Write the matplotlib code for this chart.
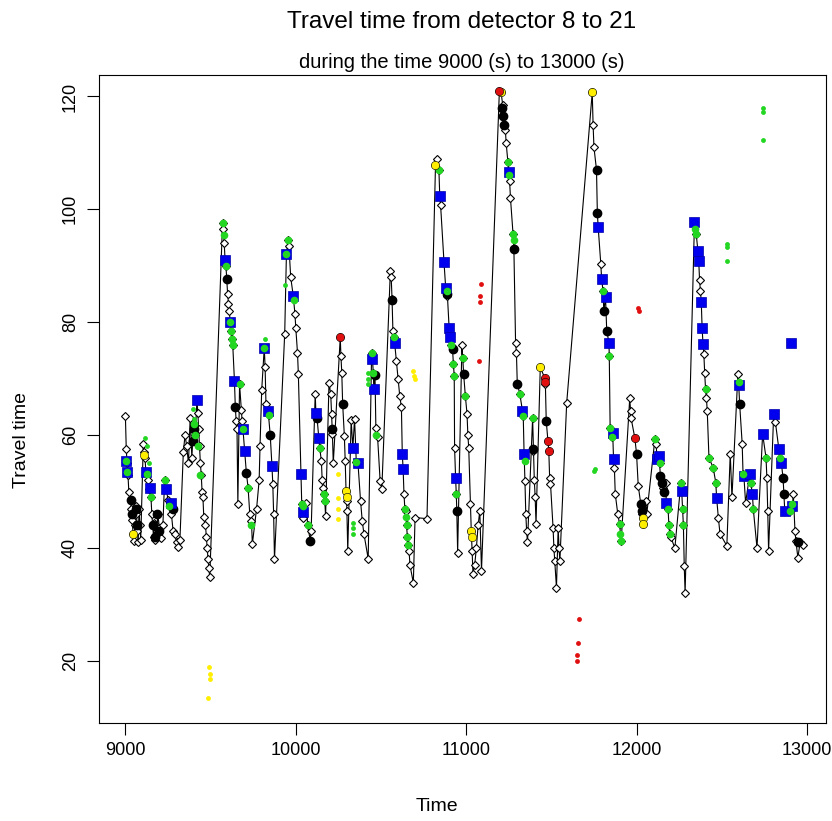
import matplotlib
matplotlib.use("Agg")
import matplotlib.pyplot as plt

plt.rcParams['font.family'] = ['Liberation Sans', 'DejaVu Sans']

# main travel-time series (time in s, travel time)
time = [9000, 9005, 9010, 9015, 9020, 9030, 9035, 9040, 9045, 9050, 9055, 9060, 9065, 9070, 9075, 9080, 9085, 9090,
        9105, 9110, 9115, 9120, 9130, 9140, 9150, 9155, 9160, 9165, 9170, 9175, 9185, 9190, 9200, 9210, 9220,
        9230, 9240, 9250, 9260, 9270, 9280, 9290, 9300, 9310, 9320,
        9340, 9350, 9360, 9370, 9380, 9390, 9400, 9410, 9420, 9425, 9430, 9435, 9440, 9445, 9450, 9455, 9460,
        9470, 9475, 9480, 9485, 9490, 9495,
        9570, 9575, 9580, 9585, 9590, 9595, 9600, 9605, 9610, 9615, 9620, 9625, 9630, 9640, 9645, 9650, 9655, 9660,
        9670, 9680, 9685, 9690, 9700, 9710, 9720, 9730, 9740, 9745,
        9770, 9785, 9790, 9800, 9815, 9820, 9825, 9835, 9840, 9850, 9860, 9865, 9870, 9875,
        9935, 9945, 9955, 9960, 9970, 9985, 9995, 10000, 10010, 10015, 10030, 10035, 10040, 10045,
        10060, 10070, 10085, 10090,
        10114, 10118, 10125, 10135, 10140, 10150, 10155, 10160, 10165, 10170, 10175,
        10195, 10205, 10210, 10215, 10220,
        10261, 10265, 10270, 10275, 10285, 10290, 10295, 10298, 10300, 10305,
        10325, 10335, 10345, 10355, 10365, 10380, 10390, 10400, 10425,
        10445, 10450, 10455, 10458, 10465, 10470, 10480, 10495, 10505,
        10555, 10560, 10565, 10570, 10575, 10580, 10590, 10600, 10610, 10620, 10625, 10630, 10635, 10640, 10645,
        10650, 10655, 10660, 10665, 10670, 10690, 10700, 10770,
        10820, 10830, 10840, 10845, 10850, 10870, 10880, 10885, 10890, 10900, 10905, 10910, 10920, 10925, 10930,
        10932, 10938, 10942, 10945, 10950,
        10975, 10980, 10985, 10995, 11005, 11010, 11015, 11025, 11030, 11035, 11040, 11050, 11060, 11070, 11080, 11090,
        11195, 11205, 11215, 11220, 11230, 11235, 11245, 11250, 11255, 11260, 11275, 11280, 11290, 11295, 11300,
        11315, 11330, 11335, 11340, 11345, 11350, 11355, 11360, 11390, 11395, 11400, 11405, 11410,
        11435, 11460, 11465, 11470, 11480, 11485, 11490, 11495, 11510, 11515, 11520, 11530, 11540, 11545, 11550,
        11590, 11740, 11745, 11750, 11765, 11770, 11775, 11790, 11795, 11803, 11808, 11818, 11825, 11838, 11840,
        11845, 11855, 11860, 11865, 11870, 11875, 11890, 11900, 11910,
        11960, 11965, 11968, 11990, 12000, 12010, 12025, 12030, 12035, 12040, 12055, 12060,
        12108, 12115, 12120, 12130, 12135, 12140, 12150, 12155, 12170, 12175, 12185, 12190, 12195, 12200, 12225,
        12260, 12265, 12270, 12275, 12280, 12285,
        12340, 12350, 12360, 12365, 12370, 12375, 12380, 12385, 12390, 12395, 12400, 12405, 12410, 12415, 12425,
        12450, 12465, 12470, 12480, 12490, 12530,
        12550, 12560, 12595, 12600, 12605, 12620, 12625, 12630, 12640, 12665, 12670, 12680, 12685, 12707,
        12740, 12760, 12765, 12770, 12775,
        12805, 12815, 12835, 12840, 12850, 12860, 12865, 12870, 12900, 12915, 12920, 12930, 12935, 12947, 12960, 12975]
travel = [63.3, 57.5, 55, 53, 50, 48.5, 47, 45, 42.5, 41.3, 44, 47.5, 46, 43, 41, 47, 44, 41.5,
          58.5, 57, 56, 53.5, 52, 50.5, 49, 46, 44, 42, 44.5, 41.5, 43, 46, 43.5, 41.8, 44,
          52, 50.5, 48.5, 48, 46, 43, 42.5, 41, 40.2, 41.5,
          57, 60, 58, 55, 63, 56, 62, 60, 66.3, 64, 61, 58, 55, 53, 50, 49, 45.5,
          44, 42, 40, 38, 36.5, 34.8,
          97.5, 96.5, 94, 91, 90, 87.6, 85, 83.3, 82, 80, 78.5, 77, 76, 69.6, 65, 62.5, 61, 47.8,
          69, 64.5, 62.5, 61, 57.2, 53.3, 50.7, 46, 44.8, 40.7,
          47, 52, 58, 68, 75.5, 72, 65.5, 64.3, 63.5, 60, 54.6, 51.4, 46, 38,
          78, 92, 94.5, 93.5, 88, 84.7, 81.5, 79, 74.6, 70.9, 53.2, 47.8, 46.3, 45.4,
          48, 44, 41.3, 43,
          67.3, 64, 63, 59.5, 57.8, 55.5, 52, 50.7, 49.6, 48.4, 45.7,
          69.3, 67.3, 63.8, 60.2, 55,
          77.3, 74, 71, 65.6, 59.9, 55.5, 50.1, 48.4, 46.6, 39.5,
          62.6, 57.8, 62.9, 55.3, 55, 48.4, 44.8, 42.5, 38.1,
          74.6, 73.5, 71, 68.2, 70.6, 61.3, 59.7, 51.9, 50.5,
          89, 88, 84.1, 78.5, 77.3, 76.4, 73.2, 70, 67, 64.9, 56.7, 54, 49.6, 47, 46.6,
          44, 42, 40.5, 39.5, 37, 33.8, 45.4, 45.2,
          107.8, 109, 107, 102.4, 100.7, 90.6, 86, 85.6, 84.7, 79, 77.3, 75.9, 75.3, 72.6, 70.5,
          57.8, 52.4, 49.6, 46.6, 39.2,
          75.9, 73.7, 70.9, 67, 63.8, 60, 57.8, 47.8, 43, 39.5, 35.4, 37, 40, 44, 46.6, 36,
          121, 120.7, 118.4, 115.2, 114, 111.7, 108.3, 106.6, 105, 102, 95.7, 93.2, 76.4, 74.6, 69.1,
          67.3, 64.3, 63.4, 56.7, 51.9, 46, 43, 41, 63, 57.2, 52, 49, 44.3,
          72, 70.2, 69, 62.5, 59, 57.2, 52.4, 51.4, 43.6, 40, 37.7, 33, 43.6, 40, 37.7,
          65.7, 120.7, 115, 111, 107, 99.3, 96.8, 90.4, 87.7, 85.6, 82, 84.4, 78.5, 76.4, 74,
          61.3, 59.6, 60.4, 55.8, 54.2, 49.6, 46, 44.3, 41.3,
          66.5, 64.3, 63, 59.5, 56.7, 51, 47.8, 46, 45.4, 44.3, 48.4, 46,
          59.4, 58.5, 55.8, 56.3, 55, 52.8, 52, 50.7, 51.6, 48, 47, 44, 42.5, 42, 40,
          51.6, 50.1, 47, 44, 36.8, 32,
          97.7, 95.7, 92.7, 90.9, 87.4, 85.6, 83.5, 78.9, 76.2, 74.4, 71, 68.2, 66.6, 64.3, 56,
          54.2, 51.6, 48.9, 45.4, 42.5, 40.4,
          56.7, 49, 70.9, 68.8, 65.6, 58.5, 53.2, 52.8, 48, 53.2, 51.6, 49.6, 47, 40,
          60.2, 56, 52.4, 46.6, 39.5,
          63.8, 62.3, 57.6, 55.9, 55, 52.4, 49.6, 46.6, 46.6, 47.5, 49.6, 43, 41.3, 38.3, 41, 40.5]

# highlighted points on the series
blue_t = [9005, 9010, 9120, 9145, 9240, 9265, 9420, 9585, 9615, 9640, 9690, 9700, 9815, 9835, 9860, 9945, 9985,
          10030, 10040, 10118, 10135, 10335, 10365, 10450, 10458, 10580, 10625, 10630, 10845, 10870, 10880, 10900,
          10905, 10938, 11250, 11330, 11340, 11775, 11795, 11818, 11838, 11860, 11865, 12120, 12130, 12175, 12265,
          12340, 12360, 12365, 12380, 12385, 12390, 12470, 12600, 12630, 12665, 12680, 12740, 12805, 12835, 12850,
          12870, 12915, 12905]
blue_v = [55.5, 53.5, 53.5, 50.7, 50.5, 48, 66.3, 91, 80, 69.6, 61, 57.2, 75.5, 64.3, 54.6, 92, 84.7,
          53.2, 46.3, 64, 59.5, 57.8, 55, 73.5, 68.2, 76.4, 56.7, 54, 102.4, 90.6, 86, 79,
          77.3, 52.4, 106.6, 64.3, 56.7, 96.8, 87.7, 84.4, 76.4, 60.4, 55.8, 55.8, 56.3, 48, 50.1,
          97.7, 92.7, 90.9, 83.5, 78.9, 76.2, 48.9, 68.8, 52.8, 53.2, 49.6, 60.2, 63.8, 57.6, 55,
          46.6, 47.5, 76.4]

green_t = [9005, 9010, 9125, 9150, 9235, 9255, 9400, 9410, 9425, 9440, 9570, 9580, 9588, 9615, 9620, 9625, 9630,
           9670, 9688, 9720, 9738, 9815, 9840, 9955, 9945, 9990, 10035, 10040, 10070, 10140, 10165, 10170, 10355,
           10445, 10455, 10470, 10575, 10640, 10645, 10650, 10655, 10660, 10840, 10885, 10910, 10925, 10930, 10942,
           10980, 10995, 11245, 11250, 11275, 11278, 11315, 11335, 11390, 11343, 11803, 11840, 11845, 11855, 11900,
           11905, 11910, 12108, 12135, 12185, 12190, 12195, 12260, 12270, 12275, 12345, 12350, 12405, 12425, 12450,
           12465, 12600, 12625, 12670, 12685, 12760, 12840, 12900, 12910]
green_v = [55.5, 53.5, 53.2, 49, 52, 47.5, 62, 60, 58, 53, 97.5, 95.5, 90, 80, 78.5, 77, 76,
           69, 61, 50.7, 44, 75.5, 63.5, 94.5, 92, 84, 47.8, 47.5, 44, 57.8, 49.6, 48.4, 55.3,
           74.6, 71, 60, 77.3, 47, 45.5, 44, 42, 40.5, 107, 85.6, 75.9, 72.6, 70.5, 49.6,
           73.7, 67, 108.3, 106, 95.7, 94.5, 67.3, 63.4, 63, 55.5, 85.6, 74, 61.3, 59.6, 44.3,
           42.5, 41.3, 59.4, 55, 47, 44, 42.5, 51.6, 47, 44, 96.5, 95.7, 68.2, 56, 54.2,
           51.6, 69.5, 53.2, 51.6, 47, 56, 55.9, 46.6, 47.8]

black_t = [9030, 9040, 9060, 9070, 9160, 9175, 9185, 9200, 9280, 9395, 9405, 9595, 9645, 9710, 9850, 10085, 10125,
           10215, 10275, 10465, 10565, 10885, 10920, 10945, 10985, 11210, 11215, 11220, 11280, 11300, 11395, 11470,
           11765, 11770, 11808, 11825, 12000, 12025, 12030, 12140, 12150, 12160, 12605, 12860, 12865, 12950]
black_v = [48.5, 46, 47, 44, 44, 42, 46, 43, 47, 59, 61, 87.6, 65, 53.3, 60, 41.3, 63,
           61, 65.6, 70.6, 84, 85, 75.3, 46.6, 70.9, 118, 116.5, 115, 93, 69, 57.5, 62.5,
           107, 99.3, 82, 78.5, 56.7, 47.8, 46.5, 52.8, 51.6, 50, 65.6, 52.4, 49.6, 41]

yellow_t = [9045, 9110, 10295, 10298, 10820, 11030, 11033, 11205, 11435, 11740, 12035, 12040]
yellow_v = [42.5, 56.5, 50.1, 49, 107.8, 43, 42, 120.7, 72, 120.7, 45.4, 44.3]

red_t = [10261, 11195, 11460, 11465, 11480, 11485, 11991]
red_v = [77.3, 121, 70.2, 69.5, 59, 57.2, 59.5]

# small detached points
sgreen_t = [9115, 9125, 9140, 9395, 9400, 9820, 9935, 10425, 10425, 10425, 10335, 10335, 10335, 11755, 11750,
            12530, 12530, 12530, 12740, 12745, 12740]
sgreen_v = [59.5, 58, 55, 64.7, 62.8, 77, 86.6, 71, 70, 69, 44.5, 43.5, 42.5, 54, 53.6,
            93.9, 93.3, 90.9, 117.9, 117.2, 112.2]
syellow_t = [9490, 9495, 9495, 9487, 10245, 10250, 10250, 10250, 10690, 10695, 10700]
syellow_v = [18.9, 17.7, 16.8, 13.4, 53.2, 48.9, 47, 45.2, 71.4, 70.5, 70]
sred_t = [11085, 11082, 11080, 11075, 12010, 12012, 11660, 11655, 11650, 11648]
sred_v = [86.8, 84.7, 83.5, 73.2, 82.6, 82, 27.4, 23.2, 21, 20]

GREEN = '#22d622'
BLUE = '#0000ee'
YELLOW = '#ffee00'
RED = '#e01010'

fig = plt.figure(figsize=(8.32, 8.21), dpi=100)
ax = fig.add_axes([99 / 832, 1 - 723 / 821, (826 - 99) / 832, (723 - 75) / 821])

ax.plot(time, travel, color='black', lw=0.8, marker='D', markersize=4.2,
        mfc='white', mec='black', mew=0.8, zorder=2)
ax.plot(black_t, black_v, 'o', color='black', markersize=6, zorder=3)
ax.plot(blue_t, blue_v, 's', color=BLUE, markersize=6.5, mec='#0000aa', mew=0.5, zorder=4)
ax.plot(green_t, green_v, 'o', color=GREEN, markersize=5.5, mew=0, zorder=5)
ax.plot(yellow_t, yellow_v, 'o', color=YELLOW, markersize=6, mec='black', mew=0.4, zorder=6)
ax.plot(red_t, red_v, 'o', color=RED, markersize=6, mec='black', mew=0.4, zorder=6)
ax.plot(sgreen_t, sgreen_v, 'o', color=GREEN, markersize=3.5, mew=0, zorder=5)
ax.plot(syellow_t, syellow_v, 'o', color=YELLOW, markersize=3.5, mew=0, zorder=5)
ax.plot(sred_t, sred_v, 'o', color=RED, markersize=3.5, mew=0, zorder=5)

ax.set_xlim(8845, 13112)
ax.set_ylim(9.0, 123.8)
ax.set_xticks([9000, 10000, 11000, 12000, 13000])
ax.set_yticks([20, 40, 60, 80, 100, 120])
ax.tick_params(direction='out', length=8.5, width=0.8, labelsize=13)
ax.tick_params(axis='x', pad=5)
ax.tick_params(axis='y', pad=6)
for lab in ax.get_yticklabels():
    lab.set_rotation(90)
    lab.set_va('center')
for sp in ax.spines.values():
    sp.set_linewidth(0.8)

fig.text(462 / 832, 1 - 22 / 821, 'Travel time from detector 8 to 21', ha='center', va='center', fontsize=17.5)
fig.text(462 / 832, 1 - 63 / 821, 'during the time 9000 (s) to 13000 (s)', ha='center', va='center', fontsize=14.5)
fig.text(437 / 832, 1 - 806 / 821, 'Time', ha='center', va='center', fontsize=14)
fig.text(22 / 832, 1 - 440 / 821, 'Travel time', ha='center', va='center', rotation=90, fontsize=14)

fig.savefig('out.png', dpi=100)
